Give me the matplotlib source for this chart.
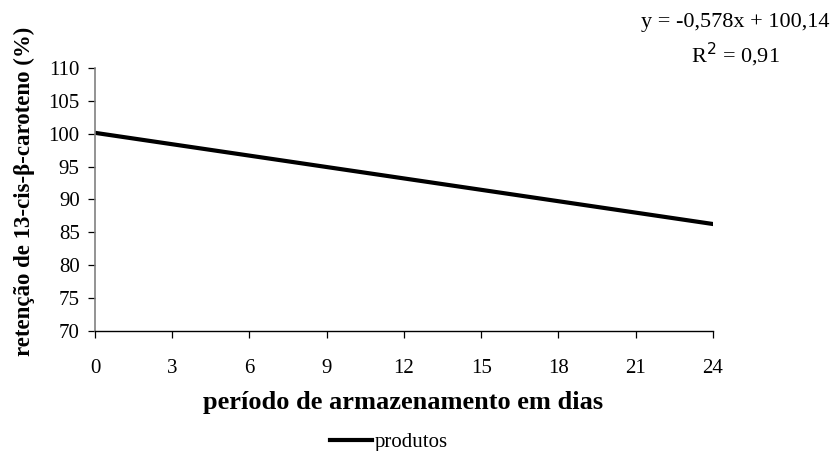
import numpy as np
import matplotlib
matplotlib.use("Agg")
import matplotlib.pyplot as plt

# regressao linear da retencao ao longo do armazenamento
dias = [0, 24]
retencao = [100.14, 86.27]
coef_angular = "-0,578"
intercepto = "100,14"
r2 = "0,91"

x_ticks = list(range(0, 25, 3))
y_ticks = list(range(70, 111, 5))

plt.rcParams['font.family'] = ['Liberation Serif', 'DejaVu Serif']

fig = plt.figure(figsize=(8.31, 4.51), dpi=100)
ax = fig.add_axes([0.1143, 0.2661, 0.7437, 0.5831])

ax.plot(dias, retencao, color="black", linewidth=3, label="produtos")

ax.set_xlim(0, 24)
ax.set_ylim(70, 110)
ax.set_xticks(x_ticks)
ax.set_yticks(y_ticks)
ax.tick_params(axis="both", direction="out", length=5, width=0.9, labelsize=15, colors="black")
ax.tick_params(axis="x", pad=15)
ax.tick_params(axis="y", pad=6)

for side in ["top", "right"]:
    ax.spines[side].set_visible(False)
ax.spines["left"].set_color("#808080")
ax.spines["left"].set_linewidth(1.2)
ax.spines["bottom"].set_linewidth(1.0)

ax.set_xlabel("período de armazenamento em dias", fontsize=19, fontweight="bold")
ax.xaxis.set_label_coords(0.498, -0.228)
ax.set_ylabel("retenção de 13-cis-β-caroteno (%)", fontsize=16.5, fontweight="bold")
ax.yaxis.set_label_coords(-0.097, 0.53)

fig.text(735 / 831, 1 - 23 / 451, f"y = {coef_angular}x + {intercepto}",
         ha="center", va="center", fontsize=16)
fig.text(735 / 831, 1 - 55 / 451, f"R$^2$ = {r2}",
         ha="center", va="center", fontsize=16)

fig.legend(loc="center", bbox_to_anchor=(389 / 831, 1 - 442 / 451), frameon=False,
           fontsize=15, handlelength=2.0, handletextpad=0.15, borderpad=0)

fig.savefig("out.png", dpi=100)
